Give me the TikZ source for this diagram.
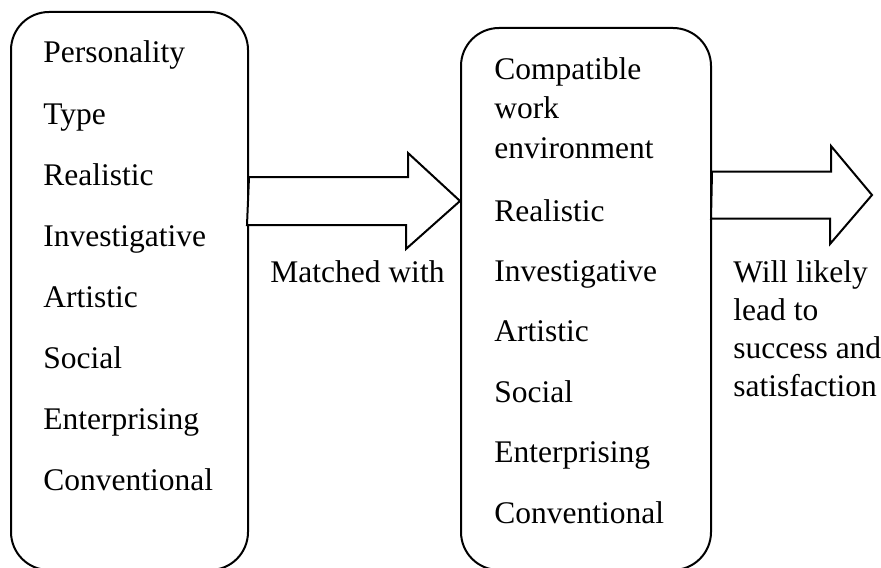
\documentclass[tikz,border=0pt]{standalone}
\usepackage{fontspec}
\setmainfont{Liberation Serif}
\usetikzlibrary{calc}

\tikzset{
  typebox/.style={draw, line width=1pt, rounded corners=19pt, inner sep=0pt},
  blockarrow/.style={draw, line width=1pt, fill=white, line join=miter},
  item/.style={anchor=base west, inner sep=0pt},
}

\begin{document}
\begin{tikzpicture}[font=\fontsize{15.75}{19}\selectfont]
\useasboundingbox (0,0) rectangle (440.5pt,-283.5pt);
\def\rowgap{30.57pt}
\def\envgap{30.2pt}

\node[typebox, minimum width=118.5pt, minimum height=279pt] (ptype) at (64.75pt,-145.5pt) {}; % personality box
\node[typebox, minimum width=125pt, minimum height=271pt] (env) at (293pt,-149.5pt) {}; % environment box

% personality types
\foreach \w [count=\i] in {Personality, Type, Realistic, Investigative, Artistic, Social, Enterprising, Conventional}
  \node[item] (p\i) at (21.5pt, {-31.5pt-(\i-1)*\rowgap}) {\w};

% work environments
\node[item] (c1) at (247pt,-40pt) {Compatible};
\node[item] (c2) at (247pt,-59.5pt) {work};
\node[item] (c3) at (247pt,-79pt) {environment};
\foreach \w [count=\i] in {Realistic, Investigative, Artistic, Social, Enterprising, Conventional}
  \node[item] (e\i) at (247pt, {-110.5pt-(\i-1)*\envgap}) {\w};

\coordinate (mid1) at (0,-100.5pt);
\draw[blockarrow] (ptype.east |- mid1) ++(0,12pt) -- ++(79.5pt,0) -- ++(0,12pt)
  -- (env.west |- mid1) -- ++(-27pt,-24pt) -- ++(0,12pt) -- ++(-79.5pt,0) -- cycle; % matched arrow
\node[item] (match) at (135pt,-141pt) {Matched with};

\coordinate (goal) at (436pt,-97.5pt);
\draw[blockarrow] (env.east |- goal) ++(0,11.75pt) -- ++(59.5pt,0) -- ++(0,12.75pt)
  -- (goal) -- ++(-21pt,-24.5pt) -- ++(0,12.75pt) -- ++(-59.5pt,0) -- cycle; % outcome arrow
\foreach \w [count=\i] in {Will likely, lead to, success and, satisfaction}
  \node[item] (o\i) at (366.5pt, {-141pt-(\i-1)*19pt}) {\w};
\end{tikzpicture}
\end{document}
